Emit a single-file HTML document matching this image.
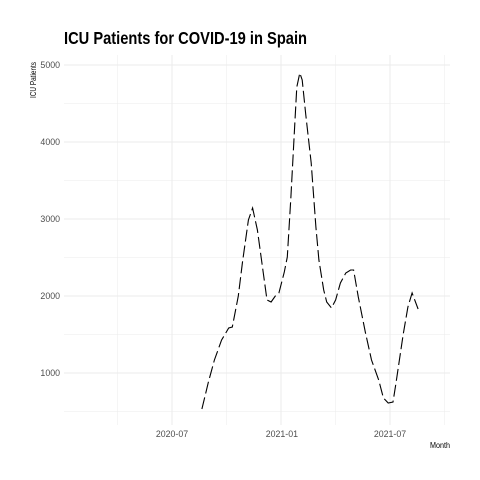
<!DOCTYPE html>
<html><head><meta charset="utf-8"><style>
body{margin:0;background:#fff;}
svg{display:block;font-family:"Liberation Sans",sans-serif;}
</style></head><body>
<svg id="chart" width="480" height="480">
<text x="64" y="44" font-size="17.5" font-weight="bold" fill="#000" textLength="243" lengthAdjust="spacingAndGlyphs">ICU Patients for COVID-19 in Spain</text>
<text transform="translate(36,80) rotate(-90)" text-anchor="middle" font-size="8" fill="#000" textLength="36" lengthAdjust="spacingAndGlyphs">ICU Patients</text>
<text x="450" y="448" text-anchor="end" font-size="8" fill="#000" textLength="20" lengthAdjust="spacingAndGlyphs">Month</text>
<g id="grid"></g><g id="ticks"></g><g id="series"></g>
</svg>
<script>
const dates=["2020-08-20","2020-08-31","2020-09-10","2020-09-22","2020-10-04","2020-10-10","2020-10-20","2020-10-27","2020-11-06","2020-11-13","2020-11-21","2020-11-29","2020-12-07","2020-12-14","2020-12-21","2020-12-27","2021-01-05","2021-01-10","2021-01-16","2021-01-23","2021-01-26","2021-01-31","2021-02-04","2021-02-10","2021-02-19","2021-02-27","2021-03-04","2021-03-12","2021-03-17","2021-03-25","2021-04-01","2021-04-09","2021-04-18","2021-04-26","2021-05-01","2021-05-09","2021-05-21","2021-05-31","2021-06-12","2021-06-20","2021-06-28","2021-07-06","2021-07-11","2021-07-23","2021-07-31","2021-08-07","2021-08-17"];
const icu=[532,883,1169,1429,1584,1597,2000,2442,2987,3143,2857,2403,1948,1922,2000,2039,2312,2506,3286,4286,4714,4896,4805,4351,3727,2896,2468,2078,1922,1844,1948,2169,2299,2338,2338,1987,1519,1169,909,675,610,623,870,1494,1857,2039,1831];
const yTicks=[1000,2000,3000,4000,5000];
const xTicks=["2020-07","2021-01","2021-07"];
const ns="http://www.w3.org/2000/svg";
const L=64,R=450,T=55,B=425;
const t0=Date.parse("2020-07-01"),t1=Date.parse("2021-07-01");
function xs(d){return 172+(Date.parse(d)-t0)/(t1-t0)*218;}
function ys(v){return 450-v*0.077;}
function mk(tag,attrs,parent){const e=document.createElementNS(ns,tag);for(const k in attrs)e.setAttribute(k,attrs[k]);parent.appendChild(e);return e;}
const grid=document.getElementById('grid'),ticks=document.getElementById('ticks'),series=document.getElementById('series');
for(let v=500;v<=5000;v+=500){const y=ys(v);const major=v%1000===0;
 const l=mk('line',{x1:L,x2:R,y1:y,y2:y,stroke:'#ebebeb','stroke-width':major?1:0.5},grid);
 
 }
yTicks.forEach(v=>{const t=mk('text',{x:60,y:ys(v)+3,'text-anchor':'end','font-size':'8.8',fill:'#4d4d4d'},ticks);t.textContent=v;
 
 });
const xs0=xs("2020-07-01");
[-0.5,0,0.5,1,1.5,2,2.5].forEach(k=>{const x=xs0+k*(xs("2021-07-01")-xs0)/2;
 if(x<L||x>R)return;const major=Number.isInteger(k);
 const l=mk('line',{x1:x,x2:x,y1:T,y2:B,stroke:'#ebebeb','stroke-width':major?1:0.5},grid);
 
 });
xTicks.forEach(m=>{const t=mk('text',{x:xs(m+"-01"),y:437,'text-anchor':'middle','font-size':'8.8',fill:'#4d4d4d'},ticks);t.textContent=m;
 
 });
const p=mk('path',{d:dates.map((d,i)=>(i?'L':'M')+xs(d).toFixed(1)+','+ys(icu[i]).toFixed(1)).join(''),fill:'none',stroke:'#000','stroke-width':1.1,'stroke-dasharray':'12 4'},series);


</script>
</body></html>
